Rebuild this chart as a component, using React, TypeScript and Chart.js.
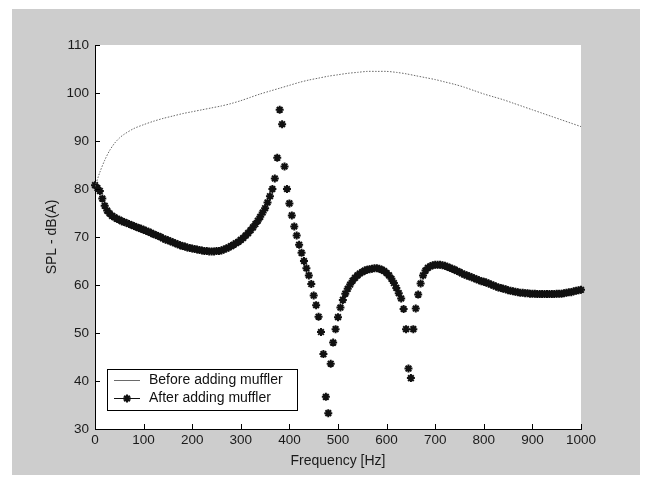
import React, { useEffect, useRef } from 'react';
import { Chart, registerables } from 'chart.js';

Chart.register(...registerables);

// ---------- data ----------
const xTickValues = [0, 100, 200, 300, 400, 500, 600, 700, 800, 900, 1000];
const yTickValues = [30, 40, 50, 60, 70, 80, 90, 100, 110];

const beforeLabel = 'Before adding muffler';
const afterLabel = 'After adding muffler';
const xTitle = 'Frequency [Hz]';
const yTitle = 'SPL - dB(A)';

const beforeFreq = [
  0, 10, 20, 30, 40, 50, 60,
  80, 100, 120, 140, 160, 180, 200, 220, 240, 260, 280, 300,
  320, 340, 360, 380, 400, 420, 440, 460, 480, 500,
  520, 540, 560, 580, 600, 620, 640, 660, 680, 700,
  720, 740, 760, 780, 800, 820, 840, 860, 880, 900,
  920, 940, 960, 980, 1000,
];
const beforeSpl = [
  80.5, 83.5, 86.0, 88.0, 89.5, 90.6, 91.4,
  92.6, 93.4, 94.1, 94.7, 95.2, 95.7, 96.1, 96.5, 96.9, 97.3, 97.8, 98.4,
  99.1, 99.8, 100.4, 101.0, 101.6, 102.2, 102.7, 103.1, 103.5, 103.8,
  104.1, 104.3, 104.5, 104.5, 104.5, 104.3, 104.0, 103.6, 103.2, 102.8,
  102.3, 101.8, 101.2, 100.5, 99.8, 99.2, 98.6, 97.9, 97.2, 96.5,
  95.8, 95.1, 94.4, 93.7, 93.0,
];

const afterFreq = [
  0, 5, 10, 15, 20, 25, 30, 35, 40, 45, 50, 55, 60, 65, 70, 75, 80, 85, 90, 95,
  100, 105, 110, 115, 120, 125, 130, 135, 140, 145, 150, 155, 160, 165, 170, 175, 180, 185, 190, 195,
  200, 205, 210, 215, 220, 225, 230, 235, 240, 245, 250, 255, 260, 265, 270, 275, 280, 285, 290, 295,
  300, 305, 310, 315, 320, 325, 330, 335, 340, 345, 350, 355, 360, 365, 370, 375, 380, 385, 390, 395,
  400, 405, 410, 415, 420, 425, 430, 435, 440, 445, 450, 455, 460, 465, 470, 475, 480, 485, 490, 495,
  500, 505, 510, 515, 520, 525, 530, 535, 540, 545, 550, 555, 560, 565, 570, 575, 580, 585, 590, 595,
  600, 605, 610, 615, 620, 625, 630, 635, 640, 645, 650, 655, 660, 665, 670, 675, 680, 685, 690, 695,
  700, 705, 710, 715, 720, 725, 730, 735, 740, 745, 750, 755, 760, 765, 770, 775, 780, 785, 790, 795,
  800, 805, 810, 815, 820, 825, 830, 835, 840, 845, 850, 855, 860, 865, 870, 875, 880, 885, 890, 895,
  900, 905, 910, 915, 920, 925, 930, 935, 940, 945, 950, 955, 960, 965, 970, 975, 980, 985, 990, 995,
  1000,
];
const afterSpl = [
  80.8, 80.2, 79.6, 78.0, 76.5, 75.5, 74.9, 74.4, 74.1, 73.8, 73.6, 73.3, 73.1, 72.9, 72.7, 72.5, 72.3, 72.1, 71.9, 71.7,
  71.5, 71.3, 71.1, 70.9, 70.6, 70.4, 70.2, 70.0, 69.7, 69.5, 69.3, 69.1, 68.9, 68.7, 68.5, 68.3, 68.1, 68.0, 67.8, 67.7,
  67.6, 67.5, 67.4, 67.3, 67.2, 67.1, 67.1, 67.0, 67.0, 67.0, 67.1, 67.1, 67.2, 67.4, 67.6, 67.8, 68.1, 68.4, 68.7, 69.0,
  69.4, 69.8, 70.3, 70.8, 71.4, 72.0, 72.7, 73.4, 74.2, 75.1, 76.0, 77.2, 78.5, 80.0, 82.2, 86.5, 96.5, 93.5, 84.7, 80.0,
  77.0, 74.5, 72.2, 70.3, 68.4, 66.7, 65.0, 63.5, 62.0, 60.2, 57.8, 55.8, 53.4, 50.2, 45.6, 36.7, 33.3, 43.6, 48.0, 50.8,
  53.3, 55.3, 56.9, 58.2, 59.2, 60.1, 60.9, 61.5, 62.0, 62.4, 62.7, 63.0, 63.2, 63.3, 63.4, 63.5, 63.5, 63.4, 63.2, 62.9,
  62.5, 62.0, 61.3, 60.4, 59.4, 58.3, 57.2, 55.0, 50.8, 42.6, 40.6, 50.8, 55.1, 58.0, 60.3, 62.0, 63.0, 63.6, 63.9, 64.1,
  64.2, 64.2, 64.2, 64.1, 64.0, 63.8, 63.6, 63.4, 63.2, 62.9, 62.7, 62.4, 62.2, 62.0, 61.8, 61.6, 61.4, 61.2, 61.0, 60.8,
  60.7, 60.5, 60.3, 60.1, 59.9, 59.7, 59.5, 59.4, 59.2, 59.1, 58.9, 58.8, 58.7, 58.6, 58.5, 58.4, 58.4, 58.3, 58.3, 58.2,
  58.2, 58.2, 58.1, 58.1, 58.1, 58.1, 58.1, 58.1, 58.1, 58.1, 58.2, 58.2, 58.2, 58.3, 58.4, 58.5, 58.5, 58.7, 58.8, 58.9,
  59.0,
];

// ---------- styles ----------
const FONT = "'Liberation Sans', Arial, Helvetica, sans-serif";
const FIG_BG = '#cdcdcd';
const BEFORE_COLOR = '#6a6a6a';
const AFTER_COLOR = '#111111';

function drawStar(ctx: CanvasRenderingContext2D, x: number, y: number, r: number) {
  ctx.beginPath();
  ctx.moveTo(x - r, y);
  ctx.lineTo(x + r, y);
  ctx.moveTo(x, y - r);
  ctx.lineTo(x, y + r);
  const d = r * Math.SQRT1_2;
  ctx.moveTo(x - d, y - d);
  ctx.lineTo(x + d, y + d);
  ctx.moveTo(x - d, y + d);
  ctx.lineTo(x + d, y - d);
  ctx.stroke();
}

const matlabPlugin = {
  id: 'matlabLook',
  beforeDraw(chart: any) {
    const { ctx, chartArea: ca, width, height } = chart;
    ctx.save();
    ctx.fillStyle = '#ffffff';
    ctx.fillRect(0, 0, width, height);
    ctx.fillStyle = FIG_BG;
    ctx.fillRect(12, 9, width - 17, height - 12);
    ctx.fillStyle = '#ffffff';
    ctx.fillRect(ca.left, ca.top, ca.right - ca.left, ca.bottom - ca.top);
    ctx.restore();
  },
  afterDraw(chart: any) {
    const { ctx, chartArea: ca } = chart;
    const xs = chart.scales.x;
    const ys = chart.scales.y;
    ctx.save();
    // inward tick marks (MATLAB style)
    ctx.strokeStyle = '#000';
    ctx.lineWidth = 1;
    ctx.beginPath();
    xs.ticks.forEach((t: any) => {
      const px = Math.round(xs.getPixelForValue(t.value)) + 0.5;
      ctx.moveTo(px, ca.bottom);
      ctx.lineTo(px, ca.bottom - 5);
    });
    ys.ticks.forEach((t: any) => {
      const py = Math.round(ys.getPixelForValue(t.value)) + 0.5;
      ctx.moveTo(ca.left, py);
      ctx.lineTo(ca.left + 5, py);
    });
    ctx.stroke();

    // legend box, lower-left inside axes
    const bx = ca.left + 12;
    const by = ca.bottom - 60;
    const bw = 190;
    const bh = 41;
    ctx.fillStyle = '#ffffff';
    ctx.fillRect(bx, by, bw, bh);
    ctx.strokeStyle = '#000';
    ctx.lineWidth = 1;
    ctx.strokeRect(bx + 0.5, by + 0.5, bw, bh);

    const ds = chart.data.datasets;
    const row1 = by + 11.5;
    const row2 = by + 29.5;
    const lx0 = bx + 7;
    const lx1 = bx + 33;
    const tx = bx + 42;

    ctx.strokeStyle = BEFORE_COLOR;
    ctx.lineWidth = 1;
    ctx.beginPath();
    ctx.moveTo(lx0, row1);
    ctx.lineTo(lx1, row1);
    ctx.stroke();

    ctx.strokeStyle = AFTER_COLOR;
    ctx.lineWidth = 1;
    ctx.beginPath();
    ctx.moveTo(lx0, row2);
    ctx.lineTo(lx1, row2);
    ctx.stroke();
    ctx.lineWidth = 2;
    drawStar(ctx, (lx0 + lx1) / 2, row2, 4);

    ctx.fillStyle = '#111';
    ctx.font = `14px ${FONT}`;
    ctx.textAlign = 'left';
    ctx.textBaseline = 'middle';
    ctx.fillText(ds[0].label, tx, row1);
    ctx.fillText(ds[1].label, tx, row2);
    ctx.restore();
  },
};

export default function App() {
  const canvasRef = useRef<HTMLCanvasElement | null>(null);

  useEffect(() => {
    const canvas = canvasRef.current;
    if (!canvas) return;

    const beforeData = beforeFreq.map((f, i) => ({ x: f, y: beforeSpl[i] }));
    const afterData = afterFreq.map((f, i) => ({ x: f, y: afterSpl[i] }));

    const chart = new Chart(canvas, {
      type: 'line',
      data: {
        datasets: [
          {
            label: beforeLabel,
            data: beforeData,
            borderColor: BEFORE_COLOR,
            borderWidth: 1,
            borderDash: [1.5, 1.5],
            pointRadius: 0,
            tension: 0.3,
            fill: false,
          },
          {
            label: afterLabel,
            data: afterData,
            showLine: false,
            borderColor: AFTER_COLOR,
            backgroundColor: AFTER_COLOR,
            pointStyle: 'star',
            pointRadius: 4,
            pointBorderWidth: 2,
            pointBorderColor: AFTER_COLOR,
            pointHoverRadius: 4,
            clip: false,
          } as any,
        ],
      },
      options: {
        responsive: false,
        animation: false,
        devicePixelRatio: 1,
        events: [],
        layout: { padding: { left: 40, right: 64, top: 45, bottom: 4 } },
        plugins: {
          legend: { display: false },
          tooltip: { enabled: false },
        },
        scales: {
          x: {
            type: 'linear',
            min: 0,
            max: 1000,
            afterBuildTicks: (scale: any) => {
              scale.ticks = xTickValues.map((v) => ({ value: v }));
            },
            afterFit: (scale: any) => {
              scale.height = 45;
            },
            grid: { display: true, drawOnChartArea: false, drawTicks: false },
            border: { display: true, color: '#000', width: 1 },
            ticks: {
              color: '#1a1a1a',
              padding: 3,
              maxRotation: 0,
              autoSkip: false,
              callback: (v: any) => String(v),
              font: { family: FONT, size: 13.5 },
            },
            title: {
              display: true,
              text: xTitle,
              color: '#1a1a1a',
              padding: { top: 0, bottom: 4 },
              font: { family: FONT, size: 14 },
            },
          },
          y: {
            type: 'linear',
            min: 30,
            max: 110,
            afterBuildTicks: (scale: any) => {
              scale.ticks = yTickValues.map((v) => ({ value: v }));
            },
            afterFit: (scale: any) => {
              scale.width = 55;
            },
            grid: { display: true, drawOnChartArea: false, drawTicks: false },
            border: { display: true, color: '#000', width: 1 },
            ticks: {
              color: '#1a1a1a',
              padding: 6,
              autoSkip: false,
              callback: (v: any) => String(v),
              font: { family: FONT, size: 13.5 },
            },
            title: {
              display: true,
              text: yTitle,
              color: '#1a1a1a',
              padding: { top: 4, bottom: 0 },
              font: { family: FONT, size: 14 },
            },
          },
        },
      },
      plugins: [matlabPlugin],
    } as any);

    return () => {
      chart.destroy();
    };
  }, []);

  return (
    <div style={{ position: 'fixed', left: 0, top: 0, width: 645, height: 478 }}>
      <canvas ref={canvasRef} width={645} height={478} style={{ display: 'block', width: 645, height: 478 }} />
    </div>
  );
}
